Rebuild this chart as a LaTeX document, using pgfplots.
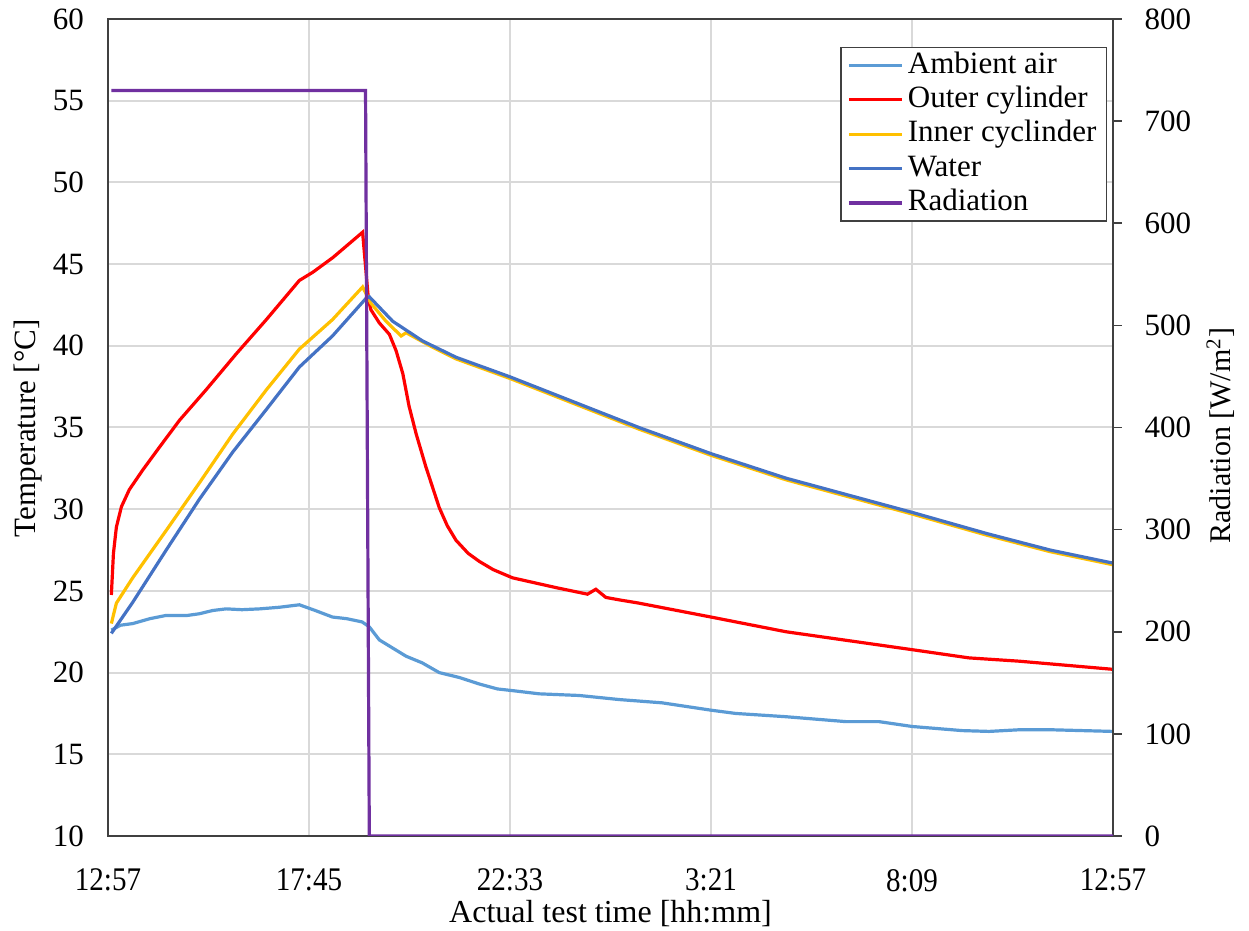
\documentclass[border=0pt]{standalone}
\usepackage{fontspec}
\setmainfont{Liberation Serif}
\usepackage{pgfplots}
\pgfplotsset{compat=1.18}
\usepackage{pgfplotstable}

\definecolor{ambientc}{HTML}{5B9BD5}
\definecolor{outerc}{HTML}{FF0000}
\definecolor{innerc}{HTML}{FFC000}
\definecolor{waterc}{HTML}{4472C4}
\definecolor{radc}{HTML}{7030A0}
\definecolor{gridc}{HTML}{D9D9D9}
\definecolor{axisc}{HTML}{404040}

% time in hours after 12:57
\pgfplotstableread{
h T
0.08 22.6
0.30 22.9
0.59 23.0
1.00 23.3
1.39 23.5
1.90 23.5
2.18 23.6
2.50 23.8
2.82 23.9
3.20 23.85
3.62 23.9
4.10 24.0
4.57 24.15
4.95 23.8
5.36 23.4
5.70 23.3
6.07 23.1
6.24 22.8
6.48 22.0
6.80 21.5
7.12 21.0
7.50 20.6
7.91 20.0
8.39 19.7
8.87 19.3
9.30 19.0
9.65 18.9
10.30 18.7
11.25 18.6
12.21 18.35
13.23 18.15
14.40 17.7
14.99 17.5
16.19 17.3
17.62 17.0
18.41 17.0
19.21 16.7
20.40 16.45
21.04 16.4
21.75 16.5
22.54 16.5
24.00 16.4
}\ambient

\pgfplotstableread{
h T
0.08 24.75
0.13 27.3
0.20 28.9
0.32 30.15
0.51 31.2
0.83 32.4
1.23 33.8
1.71 35.45
2.34 37.3
3.06 39.5
3.78 41.6
4.57 44.0
4.89 44.5
5.37 45.4
6.08 46.95
6.22 42.8
6.28 42.2
6.48 41.4
6.72 40.7
6.88 39.7
7.04 38.3
7.19 36.3
7.36 34.6
7.59 32.6
7.91 30.1
8.10 29.0
8.31 28.1
8.60 27.3
8.87 26.8
9.20 26.3
9.66 25.8
10.70 25.2
11.45 24.8
11.65 25.1
11.89 24.6
12.21 24.45
12.68 24.25
14.40 23.4
16.19 22.5
19.21 21.4
20.56 20.9
21.75 20.7
24.00 20.2
}\outer

\pgfplotstableread{
h T
0.08 23.0
0.20 24.25
0.59 25.8
1.39 28.7
2.18 31.6
2.98 34.6
3.78 37.3
4.57 39.8
5.36 41.6
6.08 43.6
6.28 42.6
6.64 41.5
7.00 40.6
7.12 40.8
7.76 39.9
8.31 39.2
9.60 38.0
11.09 36.5
12.68 34.9
14.40 33.3
16.19 31.8
19.21 29.7
21.00 28.4
22.50 27.4
24.00 26.6
}\inner

\pgfplotstableread{
h T
0.08 22.4
0.59 24.3
1.39 27.5
2.18 30.6
2.98 33.5
3.78 36.1
4.57 38.7
5.36 40.6
6.16 42.9
6.24 43.0
6.80 41.5
7.51 40.3
8.31 39.3
9.60 38.1
11.09 36.6
12.68 35.0
14.40 33.4
16.19 31.9
19.21 29.8
21.00 28.5
22.50 27.5
24.00 26.7
}\water

\pgfplotstableread{
h R
0.08 730
6.15 730
6.24 0
24.00 0
}\radiation

\pgfplotsset{
  ambient/.style={color=ambientc, line width=1.6pt},
  outer/.style={color=outerc, line width=1.6pt},
  inner/.style={color=innerc, line width=1.6pt},
  water/.style={color=waterc, line width=1.6pt},
  rad/.style={color=radc, line width=1.6pt},
}

\newcommand{\xt}[1]{\scalebox{0.88}[1]{#1}}

\begin{document}
\begin{tikzpicture}
\pgfplotsset{
  every axis/.append style={
    scale only axis, width=502.5pt, height=408.5pt,
    xmin=0, xmax=24,
    /pgf/number format/assume math mode=true,
    yticklabel style={font=\fontsize{15.5}{18}\selectfont},
    xticklabel style={font=\fontsize{16.5}{19}\selectfont},
  },
}
\begin{axis}[
  ymin=10, ymax=60, ytick={10,15,...,60},
  xtick={0,4.8,9.6,14.4,19.2,24},
  xticklabels={\xt{12:57},\xt{17:45},\xt{22:33},\xt{3:21},\xt{8:09},\xt{12:57}},
  grid=major, grid style={draw=gridc, line width=1pt},
  major tick length=0pt,
  axis line style={draw=axisc, line width=0.8pt},
  yticklabel style={xshift=-8.5pt},
  xticklabel style={yshift=-13pt},
  ylabel={Temperature [°C]},
  ylabel style={font=\fontsize{15.5}{18}\selectfont,
    at={(axis description cs:-0.0796,0.499)}, anchor=center},
  xlabel={Actual test time [hh:mm]},
  xlabel style={font=\fontsize{16}{19}\selectfont,
    at={(axis description cs:0.5,-0.0946)}, anchor=center},
]
\addplot[ambient] table[x=h, y=T] {\ambient};
\addplot[outer] table[x=h, y=T] {\outer};
\addplot[inner] table[x=h, y=T] {\inner};
\addplot[water] table[x=h, y=T] {\water};
\end{axis}

\begin{axis}[
  axis y line*=right, axis x line=none,
  ymin=0, ymax=800, ytick={0,100,...,800},
  tick align=outside, major tick length=4.3pt,
  axis line style={draw=axisc, line width=0.8pt},
  ytick style={draw=axisc, line width=0.8pt},
  yticklabel style={xshift=8pt},
  ylabel={Radiation [W/m\textsuperscript{2}]},
  ylabel style={font=\fontsize{15}{18}\selectfont,
    at={(axis description cs:1.107,0.49)}, anchor=center, rotate=0},
  legend cell align=left,
  legend style={
    at={(rel axis cs:0.9942,0.966)}, anchor=north east,
    draw=axisc, line width=0.8pt, fill=white,
    font=\fontsize{15.5}{18}\selectfont,
    row sep=0pt, inner xsep=3pt, inner ysep=0.3pt,
    nodes={inner xsep=2pt, inner ysep=1.5pt, text height=11pt, text depth=3.2pt},
  },
  legend image code/.code={\draw[#1] (0pt,0pt) -- (26.7pt,0pt);},
]
\addlegendimage{ambient}
\addlegendentry{Ambient air}
\addlegendimage{outer}
\addlegendentry{Outer cylinder}
\addlegendimage{inner}
\addlegendentry{Inner cyclinder}
\addlegendimage{water}
\addlegendentry{Water}
\addplot[rad] table[x=h, y=R] {\radiation};
\addlegendentry{Radiation}
\end{axis}
\pgfresetboundingbox
\path (-54pt,-47.5pt) rectangle (570.5pt,418pt);
\end{tikzpicture}
\end{document}
